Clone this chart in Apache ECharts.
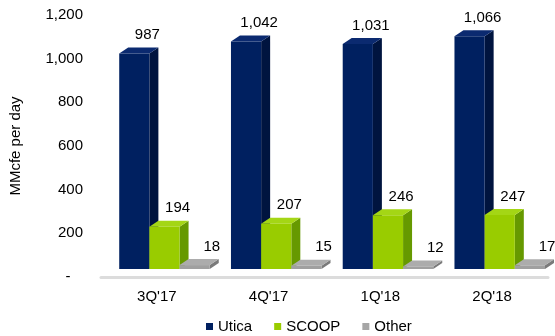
<!DOCTYPE html>
<html>
<head>
<meta charset="utf-8">
<script src="https://cdn.jsdelivr.net/npm/echarts@6/dist/echarts.min.js"></script>
<style>html,body{margin:0;padding:0;background:#fff}#c{width:555px;height:336px}</style>
</head>
<body>
<div id="c"></div>
<script>
const categories = ["3Q'17", "4Q'17", "1Q'18", "2Q'18"];
const utica = [987, 1042, 1031, 1066];
const scoop = [194, 207, 246, 247];
const other = [18, 15, 12, 17];
const seriesNames = ['Utica', 'SCOOP', 'Other'];
const yMin = 0, yMax = 1200, yStep = 200;

const palettes = [
  { front: '#002060', top: '#0b2a70', side: '#00143f' },
  { front: '#99cc00', top: '#a4d615', side: '#669900' },
  { front: '#a0a0a0', top: '#acacac', side: '#7a7a7a' }
];
const FONT = 'Liberation Sans, Arial, sans-serif';

function fmt(v) {
  if (v === 0) return '-   ';
  return v.toLocaleString('en-US');
}

function makeRender(k) {
  return function (params, api) {
    const idx = api.value(0);
    const val = api.value(1);
    const base = api.coord([idx, 0]);
    const topP = api.coord([idx, val]);
    const cw = api.size([1, 0])[0];
    const bw = cw * 0.27;
    const dx = 9, dy = 6, lift = 8;
    const x0 = base[0] - cw * 0.337 + k * bw;
    const y0 = base[1] - lift;
    const y1 = topP[1] - lift;
    const pal = palettes[k];
    const children = [
      { type: 'polygon', shape: { points: [[x0 + bw, y1], [x0 + bw + dx, y1 - dy], [x0 + bw + dx, y0 - dy], [x0 + bw, y0]] }, style: { fill: pal.side } },
      { type: 'rect', shape: { x: x0, y: y1, width: bw, height: y0 - y1 }, style: { fill: pal.front } },
      { type: 'polygon', shape: { points: [[x0, y1], [x0 + dx, y1 - dy], [x0 + bw + dx, y1 - dy], [x0 + bw, y1]] }, style: { fill: pal.top } },
      { type: 'text', style: { text: fmt(val), x: x0 + bw + (k === 2 ? 2 : -2), y: y1 - dy - 5, textAlign: 'center', textVerticalAlign: 'bottom', fontSize: 15, fontFamily: FONT, fill: '#000' } }
    ];
    return { type: 'group', children: children };
  };
}

const dataSets = [utica, scoop, other];
const chart = echarts.init(document.getElementById('c'), null, { renderer: 'canvas' });
chart.setOption({
  animation: false,
  grid: { left: 98, right: 7, top: 15, bottom: 59, containLabel: false },
  legend: {
    data: seriesNames, left: 206, top: 319, padding: 0,
    icon: 'rect', itemWidth: 7, itemHeight: 7, itemGap: 22,
    textStyle: { fontSize: 15, fontFamily: FONT, color: '#000' }
  },
  xAxis: {
    type: 'category', data: categories,
    axisLine: { show: true, lineStyle: { color: '#dcdcdc', width: 3 } },
    axisTick: { show: false },
    axisLabel: { fontSize: 15, fontFamily: FONT, color: '#000', margin: 12 }
  },
  yAxis: {
    type: 'value', min: yMin, max: yMax, interval: yStep,
    name: 'MMcfe per day', nameLocation: 'middle', nameRotate: 90, nameGap: 78,
    nameTextStyle: { fontSize: 15, fontFamily: FONT, color: '#000' },
    axisLine: { show: false }, axisTick: { show: false }, splitLine: { show: false },
    axisLabel: { fontSize: 15, fontFamily: FONT, color: '#000', margin: 18, formatter: fmt }
  },
  series: seriesNames.map((name, k) => ({
    type: 'custom', name: name,
    itemStyle: { color: palettes[k].front === '#a0a0a0' ? '#a6a6a6' : palettes[k].front },
    encode: { x: 0, y: 1 },
    data: dataSets[k].map((v, i) => [i, v]),
    renderItem: makeRender(k),
    z: 2 + k
  }))
});
</script>
</body>
</html>
